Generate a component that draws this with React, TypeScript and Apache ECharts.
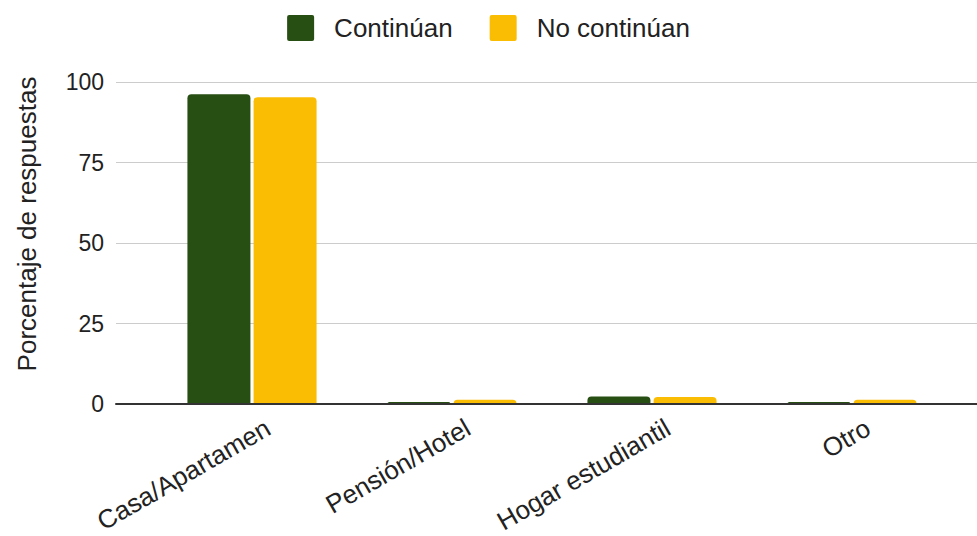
import React, { useEffect, useRef } from "react";
import * as echarts from "echarts";

const categories = ["Casa/Apartamen", "Pensión/Hotel", "Hogar estudiantil", "Otro"];
const continuan = [96.2, 0.6, 2.3, 0.6];
const noContinuan = [95.3, 1.3, 2.2, 1.3];
const yTicks = { min: 0, max: 100, interval: 25 };
const seriesNames = ["Continúan", "No continúan"];
const colors = ["#274e13", "#fbbc04"];
const yAxisTitle = "Porcentaje de respuestas";

export default function App() {
  const ref = useRef<HTMLDivElement>(null);
  useEffect(() => {
    if (!ref.current) return;
    const chart = echarts.init(ref.current, undefined, { renderer: "svg" });
    const font = "Arial, 'Liberation Sans', sans-serif";
    const top = 82;
    const bottom = 132;
    chart.setOption({
      animation: false,
      textStyle: { fontFamily: font },
      legend: {
        top: 10,
        left: "center",
        itemWidth: 27,
        itemHeight: 26,
        itemGap: 37,
        icon: "path://M2,0 H25 Q27,0 27,2 V24 Q27,26 25,26 H2 Q0,26 0,24 V2 Q0,0 2,0 Z",
        textStyle: { fontSize: 26, color: "#222", fontFamily: font, padding: [0, 0, 0, 15] },
        data: seriesNames,
      },
      grid: [
        { left: 152, right: 25, top, bottom },
        { left: 116, right: 0, top, bottom },
        { left: 168, right: 9, top, bottom },
      ],
      xAxis: [
        {
          type: "category",
          gridIndex: 0,
          data: categories,
          axisLine: { show: false },
          axisTick: { show: false },
          axisLabel: { show: false },
        },
        {
          type: "value",
          gridIndex: 1,
          min: 0,
          max: 1,
          z: 5,
          axisLine: { show: true, lineStyle: { color: "#333", width: 2 } },
          axisTick: { show: false },
          axisLabel: { show: false },
          splitLine: { show: false },
        },
        {
          type: "category",
          gridIndex: 2,
          data: categories,
          axisLine: { show: false },
          axisTick: { show: false },
          axisLabel: {
            rotate: 30,
            margin: 32,
            interval: 0,
            fontSize: 26,
            color: "#222",
            fontFamily: font,
          },
        },
      ],
      yAxis: [
        { type: "value", gridIndex: 0, ...yTicks, show: false },
        {
          type: "value",
          gridIndex: 1,
          ...yTicks,
          axisLine: { show: false },
          axisTick: { show: false },
          axisLabel: { fontSize: 23, color: "#222", margin: 12, fontFamily: font },
          splitLine: { lineStyle: { color: "#cccccc", width: 1 } },
        },
        { type: "value", gridIndex: 2, ...yTicks, show: false },
      ],
      graphic: [
        {
          type: "text",
          x: 27,
          y: 224,
          rotation: Math.PI / 2,
          style: {
            text: yAxisTitle,
            fontSize: 26,
            fill: "#222",
            fontFamily: font,
            textAlign: "center",
            textVerticalAlign: "middle",
          },
        },
      ],
      series: [
        {
          name: seriesNames[0],
          type: "bar",
          xAxisIndex: 0,
          yAxisIndex: 0,
          data: continuan,
          barWidth: 63,
          barGap: "5%",
          itemStyle: { color: colors[0], borderRadius: [4, 4, 0, 0] },
        },
        {
          name: seriesNames[1],
          type: "bar",
          xAxisIndex: 0,
          yAxisIndex: 0,
          data: noContinuan,
          barWidth: 63,
          barGap: "5%",
          itemStyle: { color: colors[1], borderRadius: [4, 4, 0, 0] },
        },
      ],
    });
    return () => chart.dispose();
  }, []);
  return (
    <div
      ref={ref}
      style={{ position: "fixed", left: 0, top: 0, width: 977, height: 536, background: "#fff" }}
    />
  );
}
